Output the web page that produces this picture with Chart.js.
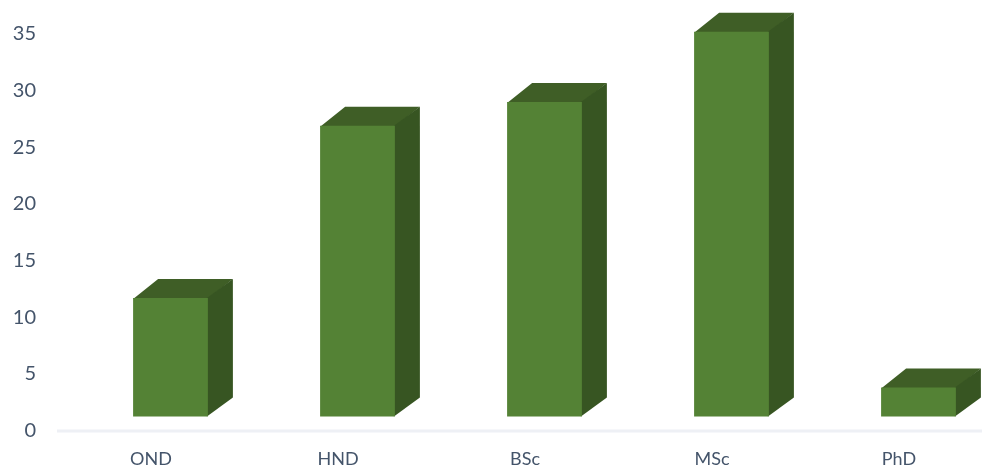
<!DOCTYPE html>
<html>
<head>
<meta charset="utf-8">
<script src="https://cdn.jsdelivr.net/npm/chart.js@4"></script>
<style>
    html, body { margin: 0; padding: 0; background: #fff; overflow: hidden; }
    canvas { display: block; filter: blur(0.5px); }
</style>
</head>
<body>
<canvas id="levelChart" width="1012" height="470"></canvas>
<script>
const categories = ['OND', 'HND', 'BSc', 'MSc', 'PhD'];
const counts = [11.7, 26.9, 29, 35.2, 3.8];
const yTicks = [0, 5, 10, 15, 20, 25, 30, 35];

const canvas = document.getElementById('levelChart');
const textColor = '#44546a';
const depthX = 25;
const depthY = 19;

// the original is a 3D column chart, so the floor and the top and side faces
// are drawn under each bar, 1px into it so no seam shows
const depthFaces = {
    id: 'depthFaces',
    beforeDatasetsDraw: (chart) => {
        const ctx = chart.ctx;
        const zero = chart.scales.y.getPixelForValue(0);
        ctx.save();
        ctx.strokeStyle = '#eef0f5';
        ctx.lineWidth = 3;
        ctx.beginPath();
        ctx.moveTo(chart.chartArea.left - 20, zero + 0.5);
        ctx.lineTo(chart.chartArea.right, zero + 0.5);
        ctx.stroke();

        chart.getDatasetMeta(0).data.forEach((bar) => {
            const { x, y, base, width } = bar.getProps(['x', 'y', 'base', 'width']);
            const right = x + width / 2;
            const left = x - width / 2;

            ctx.fillStyle = '#3f5e26';
            ctx.beginPath();
            ctx.moveTo(left, y + 1);
            ctx.lineTo(left + depthX, y - depthY);
            ctx.lineTo(right + depthX, y - depthY);
            ctx.lineTo(right, y + 1);
            ctx.closePath();
            ctx.fill();

            ctx.fillStyle = '#375522';
            ctx.beginPath();
            ctx.moveTo(right - 1, y);
            ctx.lineTo(right + depthX, y - depthY);
            ctx.lineTo(right + depthX, base - depthY);
            ctx.lineTo(right - 1, base);
            ctx.closePath();
            ctx.fill();
        });
        ctx.restore();
    }
};

const myChart = new Chart(canvas, {
    type: 'bar',
    data: {
        labels: categories,
        datasets: [
            {
                label: 'Count',
                data: counts,
                base: 1.24,
                backgroundColor: '#548235',
                barPercentage: 0.4,
                categoryPercentage: 1
            }
        ]
    },
    options: {
        responsive: false,
        animation: false,
        layout: { padding: 0 },
        plugins: {
            legend: { display: false },
            tooltip: { enabled: false }
        },
        scales: {
            x: {
                grid: { display: false },
                border: { display: false },
                afterFit: (scale) => { scale.height = 39.5; },
                ticks: {
                    color: textColor,
                    font: { family: 'Lato', size: 18 },
                    padding: 10,
                    labelOffset: -19.5,
                    maxRotation: 0,
                    autoSkip: false
                }
            },
            y: {
                min: 0,
                max: 38,
                grid: { display: false, drawTicks: false },
                border: { display: false },
                afterFit: (scale) => {
                    scale.width = 77;
                    scale.paddingTop = 0;
                    scale.paddingBottom = 0;
                },
                afterBuildTicks: (scale) => { scale.ticks = yTicks.map((value) => ({ value })); },
                ticks: {
                    color: textColor,
                    font: { family: 'Lato', size: 20 },
                    padding: 41
                }
            }
        }
    },
    plugins: [depthFaces]
});
</script>
</body>
</html>
